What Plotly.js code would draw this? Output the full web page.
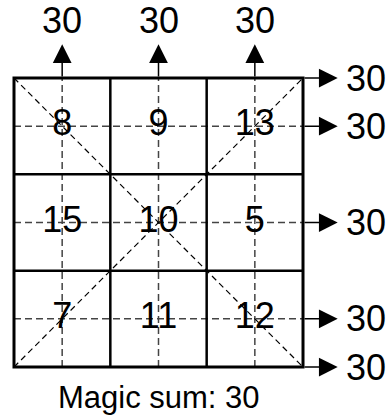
<!DOCTYPE html>
<html>
<head>
<meta charset="utf-8">
<script src="https://cdn.plot.ly/plotly-3.0.1.min.js"></script>
<style>
  html, body { margin: 0; padding: 0; background: #fff; }
  #chart { width: 390px; height: 415px; }
</style>
</head>
<body>
<div id="chart"></div>
<script>
// magic square, top row first
const squareRows = [
  [8, 9, 13],
  [15, 10, 5],
  [7, 11, 12]
];
const captionPrefix = "Magic sum: ";

document.addEventListener("DOMContentLoaded", function() {
  const n = squareRows.length;
  const font = "Liberation Sans, Arial, Helvetica, sans-serif";

  // sums
  const rowSums = squareRows.map(r => r.reduce((a, b) => a + b, 0));
  const colSums = squareRows[0].map((_, c) => squareRows.reduce((a, r) => a + r[c], 0));
  let mainDiag = 0, antiDiag = 0;
  for (let i = 0; i < n; i++) {
    mainDiag += squareRows[i][i];
    antiDiag += squareRows[i][n - 1 - i];
  }

  // cell numbers
  const cellX = [], cellY = [], cellText = [];
  squareRows.forEach((row, r) => {
    row.forEach((v, c) => {
      cellX.push(c + 0.5);
      cellY.push(n - r - 0.5);
      cellText.push(String(v));
    });
  });

  const traceCells = {
    x: cellX,
    y: cellY,
    text: cellText,
    mode: "text",
    type: "scatter",
    textposition: "middle center",
    textfont: { family: font, size: 36, color: "#000" },
    hoverinfo: "skip",
    showlegend: false
  };

  const shapes = [];
  const guide = { color: "#444", width: 1.5, dash: "7px,4px" };
  // dashed guides through rows and columns
  for (let i = 0; i < n; i++) {
    shapes.push({ type: "line", x0: i + 0.5, x1: i + 0.5, y0: 0, y1: n, line: guide, layer: "below" });
    shapes.push({ type: "line", x0: 0, x1: n, y0: i + 0.5, y1: i + 0.5, line: guide, layer: "below" });
  }
  // diagonals
  const diag = { color: "#000", width: 1.2, dash: "6px,4px" };
  shapes.push({ type: "line", x0: 0, y0: n, x1: n, y1: 0, line: diag, layer: "below" });
  shapes.push({ type: "line", x0: 0, y0: 0, x1: n, y1: n, line: diag, layer: "below" });
  // grid
  for (let i = 1; i < n; i++) {
    shapes.push({ type: "line", x0: i, x1: i, y0: 0, y1: n, line: { color: "#000", width: 2.5 } });
    shapes.push({ type: "line", x0: 0, x1: n, y0: i, y1: i, line: { color: "#000", width: 2.5 } });
  }
  shapes.push({ type: "rect", x0: 0, x1: n, y0: 0, y1: n, line: { color: "#000", width: 3 } });

  const annotations = [];
  const arrowStyle = {
    text: "", showarrow: true, axref: "x", ayref: "y",
    arrowhead: 2, arrowsize: 2.5, arrowwidth: 1.5, arrowcolor: "#000"
  };
  const labelFont = { family: font, size: 36, color: "#000" };
  const upTip = n + 0.35, rightTip = n + 0.36;
  const topLabelY = n + 0.6, rightLabelX = n + 0.655;

  // column sums, arrows up
  colSums.forEach((s, c) => {
    annotations.push(Object.assign({}, arrowStyle, { x: c + 0.5, y: upTip, ax: c + 0.5, ay: n }));
    annotations.push({ x: c + 0.5, y: topLabelY, text: String(s), showarrow: false, font: labelFont });
  });

  // row sums plus diagonals, arrows right
  const rightRows = [{ y: n, s: antiDiag }]
    .concat(rowSums.map((s, r) => ({ y: n - r - 0.5, s: s })))
    .concat([{ y: 0, s: mainDiag }]);
  rightRows.forEach(o => {
    annotations.push(Object.assign({}, arrowStyle, { x: rightTip, y: o.y, ax: n, ay: o.y }));
    annotations.push({ x: rightLabelX, y: o.y, text: String(o.s), showarrow: false, font: labelFont });
  });

  annotations.push({
    x: n / 2, y: -0.32, text: captionPrefix + rowSums[0], showarrow: false,
    font: { family: font, size: 31, color: "#000" }
  });

  const layout = {
    width: 390,
    height: 415,
    margin: { l: 0, r: 0, t: 0, b: 0 },
    paper_bgcolor: "#fff",
    plot_bgcolor: "#fff",
    xaxis: { range: [-0.1453, 3.903], visible: false, fixedrange: true },
    yaxis: { range: [-0.498, 3.81], visible: false, fixedrange: true },
    shapes: shapes,
    annotations: annotations,
    showlegend: false
  };

  Plotly.newPlot("chart", [traceCells], layout, { displayModeBar: false, staticPlot: true });
});
</script>
</body>
</html>
